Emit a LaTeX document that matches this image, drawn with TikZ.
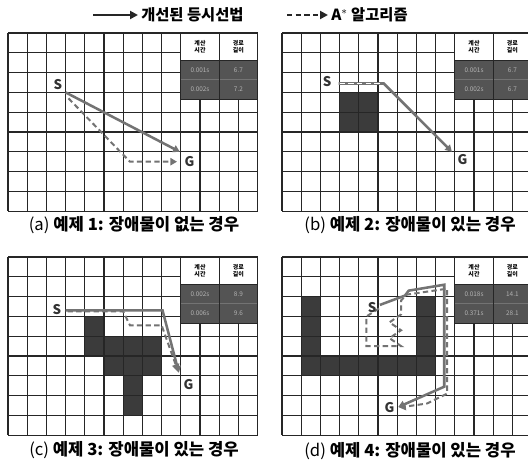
\documentclass[tikz,border=0pt]{standalone}
\usepackage{fontspec}
\setmainfont{Noto Sans CJK KR}
\usetikzlibrary{arrows.meta}
\definecolor{pathgray}{gray}{0.45}
\definecolor{obst}{gray}{0.23}
\definecolor{tabdark}{gray}{0.33}
\definecolor{gridc}{gray}{0.15}
\tikzset{
  gridline/.style={draw=gridc, line width=0.8pt},
  obstacle/.style={fill=obst, draw=none},
  improved/.style={draw=pathgray, line width=1.9pt, -{Triangle[length=5pt,width=5.5pt]}},
  astar/.style={draw=pathgray, line width=1.5pt, dash pattern=on 4pt off 2.5pt, -{Triangle[length=5pt,width=5.5pt]}},
  legsolid/.style={draw=black!85, line width=2pt, -{Triangle[length=6pt,width=6pt]}},
  legdash/.style={draw=black!85, line width=2pt, dash pattern=on 4pt off 2.5pt, -{Triangle[length=6pt,width=6pt]}},
  legtext/.style={font=\bfseries\fontsize{11.5}{12}\selectfont, inner sep=0pt, anchor=west},
  ptlabel/.style={font=\bfseries\fontsize{10}{10}\selectfont, text=black!80, inner sep=0pt},
  captext/.style={font=\bfseries\fontsize{12.5}{13}\selectfont, inner sep=0pt},
  tabhead/.style={font=\bfseries\fontsize{4.5}{5}\selectfont, align=center, inner sep=0pt},
  tabval/.style={font=\fontsize{4.8}{5}\selectfont, text=white!70!black, inner sep=0pt},
}
\newcommand\gridlines{%
  \foreach \i in {0,...,13} \draw[gridline] (\i,0) -- (\i,9);
  \foreach \j in {0,...,9} \draw[gridline] (0,\j) -- (13,\j);
}
\newcommand\restab[5]{%
  \fill[white] (9,0) rectangle (13,1.37);
  \fill[tabdark] (9,1.37) rectangle (13,3.35);
  \draw[black!55, line width=0.6pt] (9,2.36) -- (13,2.36);
  \draw[gridc, line width=0.8pt] (9,0) rectangle (13,3.35) (11,0) -- (11,3.35) (9,1.37) -- (13,1.37);
  \node[tabhead] (#1h1) at (10,0.68) {계산\\시간};
  \node[tabhead] (#1h2) at (12,0.68) {경로\\길이};
  \node[tabval] (#1t1) at (10,1.86) {#2};
  \node[tabval] (#1l1) at (12,1.86) {#3};
  \node[tabval] (#1t2) at (10,2.85) {#4};
  \node[tabval] (#1l2) at (12,2.85) {#5};
}
\begin{document}
\begin{tikzpicture}[x=0.75pt,y=-0.75pt]
\useasboundingbox (0,0) rectangle (528,466);
\fill[white] (0,0) rectangle (528,466);

% legend
\coordinate (ls1) at (93,15); \coordinate (ls2) at (138,15);
\draw[legsolid] (ls1) -- (ls2);
\node[legtext] (lt1) at (141,15) {개선된 등시선법};
\coordinate (ld1) at (287,15); \coordinate (ld2) at (328,15);
\draw[legdash] (ld1) -- (ld2);
\node[legtext] (lt2) at (331,15) {A$^{*}$ 알고리즘};

% ---------- (a)
\begin{scope}[shift={(8,33)}, x=14.4pt, y=-14.85pt]
  \gridlines
  \restab{a}{0.001s}{6.7}{0.002s}{7.2}
  \coordinate (aS) at (3,3); \coordinate (aG) at (8.95,6);
  \draw[astar] (3.15,3.3) -- (6.0,6.15) -- (6.35,6.5) -- (8.8,6.5);
  \draw[improved] (aS) -- (aG);
  \node[ptlabel] (aSl) at (2.6,2.6) {S};
  \node[ptlabel] (aGl) at (9.45,6.5) {G};
\end{scope}
\node[captext] (capa) at (134,225) {{\mdseries (a)} 예제 1: 장애물이 없는 경우};

% ---------- (b)
\begin{scope}[shift={(282,33)}, x=14.4pt, y=-14.85pt]
  \fill[obstacle] (3,3) rectangle (5,5);
  \gridlines
  \restab{b}{0.001s}{6.7}{0.002s}{6.7}
  \coordinate (bS) at (2.95,2.55); \coordinate (bG) at (8.85,6.0);
  \draw[improved] (bS) -- (5.3,2.55) -- (bG);
  \draw[draw=white, line width=0.6pt, dash pattern=on 4pt off 2.5pt] (3.0,2.55) -- (5.25,2.55);
  \node[ptlabel] (bSl) at (2.35,2.45) {S};
  \node[ptlabel] (bGl) at (9.4,6.4) {G};
\end{scope}
\node[captext] (capb) at (410,225) {{\mdseries (b)} 예제 2: 장애물이 있는 경우};

% ---------- (c)
\begin{scope}[shift={(8,257)}, x=14.4pt, y=-14.85pt]
  \fill[obstacle] (4,3) rectangle (5,5);
  \fill[obstacle] (5,4) rectangle (8,6);
  \fill[obstacle] (6,6) rectangle (7,8);
  \gridlines
  \restab{c}{0.002s}{8.9}{0.006s}{9.6}
  \coordinate (cS) at (3,2.7); \coordinate (cG) at (8.9,5.85);
  \draw[improved] (cS) -- (8.05,2.7) -- (cG);
  \draw[astar] (3.1,2.75) -- (6.0,2.75) -- (6.35,3.45) -- (8.0,3.45) -- (8.85,5.75);
  \node[ptlabel] (cSl) at (2.55,2.65) {S};
  \node[ptlabel] (cGl) at (9.4,6.45) {G};
\end{scope}
\node[captext] (capc) at (134,450) {{\mdseries (c)} 예제 3: 장애물이 있는 경우};

% ---------- (d)
\begin{scope}[shift={(282,257)}, x=14.4pt, y=-14.85pt]
  \fill[obstacle] (1,2) rectangle (2,6);
  \fill[obstacle] (7,2) rectangle (8,6);
  \fill[obstacle] (1,5) rectangle (8,6);
  \gridlines
  \restab{d}{0.018s}{14.1}{0.371s}{28.1}
  \coordinate (dS) at (5.1,2.42); \coordinate (dG) at (6.05,7.58);
  \draw[improved] (dS) -- (6.4,1.95) -- (6.6,1.7) -- (8.45,1.4) -- (8.45,6.55) -- (dG);
  \draw[astar] (5.05,2.6) -- (4.4,3.0) -- (4.4,4.5) -- (6.2,4.5) -- (5.6,4.1) -- (6.2,3.7) -- (5.6,3.3) -- (6.2,2.9) -- (6.2,2.2) -- (6.5,1.9) -- (8.6,1.6) -- (8.6,6.9) -- (7.55,7.4) -- (6.1,7.6);
  \node[ptlabel] (dSl) at (4.7,2.55) {S};
  \node[ptlabel] (dGl) at (5.6,7.6) {G};
\end{scope}
\node[captext] (capd) at (410,451) {{\mdseries (d)} 예제 4: 장애물이 있는 경우};
\end{tikzpicture}
\end{document}
